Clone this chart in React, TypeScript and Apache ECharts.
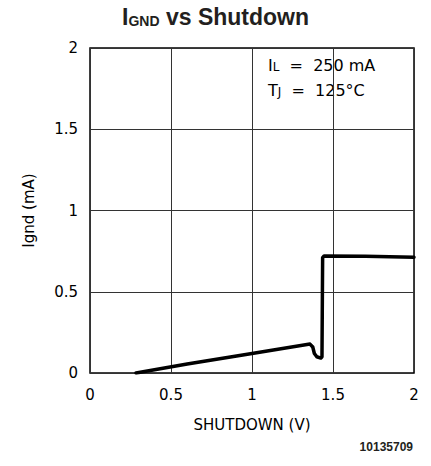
import React, { useEffect, useRef } from "react";
import * as echarts from "echarts";

const xValues = [0.284, 0.6, 1.0, 1.358, 1.375, 1.385, 1.4, 1.425, 1.432, 1.436, 1.445, 1.7, 2.0];
const yValues = [0.0, 0.055, 0.12, 0.178, 0.16, 0.12, 0.1, 0.092, 0.1, 0.71, 0.72, 0.718, 0.712];
const xTicks = [0, 0.5, 1, 1.5, 2];
const yTicks = [0, 0.5, 1, 1.5, 2];
const titleMain = "I";
const titleSub = "GND";
const titleRest = " vs Shutdown";
const xName = "SHUTDOWN (V)";
const yName = "Ignd (mA)";
const figCode = "10135709";

const TICK_FONT = "'DejaVu Sans', sans-serif";
const BOLD_FONT = "'Liberation Sans', Arial, sans-serif";

export default function App() {
  const ref = useRef<HTMLDivElement>(null);
  useEffect(() => {
    if (!ref.current) return;
    const chart = echarts.init(ref.current, undefined, { renderer: "svg" });
    const data = xValues.map((x, i) => [x, yValues[i]]);
    chart.setOption({
      animation: false,
      backgroundColor: "#ffffff",
      title: {
        text: `{b|${titleMain}}{s|${titleSub}}{b|${titleRest}}`,
        left: "center",
        top: 0,
        textStyle: {
          rich: {
            b: { fontFamily: BOLD_FONT, fontWeight: "bold", fontSize: 23, color: "#231f20", verticalAlign: "bottom" },
            s: { fontFamily: BOLD_FONT, fontWeight: "bold", fontSize: 14, color: "#231f20", verticalAlign: "bottom", padding: [8, 0, 0, 0] },
          },
        },
      },
      grid: { left: 90, right: 17, top: 48, bottom: 93, show: true, borderColor: "#000", borderWidth: 1.5 },
      xAxis: {
        type: "value",
        min: xTicks[0],
        max: xTicks[xTicks.length - 1],
        interval: 0.5,
        name: xName,
        nameLocation: "middle",
        nameGap: 44,
        nameTextStyle: { fontFamily: TICK_FONT, fontSize: 15, color: "#000" },
        axisLine: { show: false },
        axisTick: { show: false },
        axisLabel: { fontFamily: TICK_FONT, fontSize: 15, color: "#000", margin: 14, formatter: (v: number) => String(v) },
        splitLine: { show: true, lineStyle: { color: "#333", width: 1 } },
      },
      yAxis: {
        type: "value",
        min: yTicks[0],
        max: yTicks[yTicks.length - 1],
        interval: 0.5,
        name: yName,
        nameLocation: "middle",
        nameGap: 54,
        nameTextStyle: { fontFamily: TICK_FONT, fontSize: 15, color: "#000" },
        axisLine: { show: false },
        axisTick: { show: false },
        axisLabel: { fontFamily: TICK_FONT, fontSize: 15, color: "#000", margin: 12, formatter: (v: number) => String(v) },
        splitLine: { show: true, lineStyle: { color: "#333", width: 1 } },
      },
      graphic: [
        {
          type: "text",
          left: 268,
          top: 57,
          style: {
            text: "{m|I}{s|L}{m|  =  250 mA}",
            rich: {
              m: { fontFamily: TICK_FONT, fontSize: 16, fill: "#000", verticalAlign: "bottom" },
              s: { fontFamily: TICK_FONT, fontSize: 12, fill: "#000", verticalAlign: "bottom", padding: [6, 0, 0, 0] },
            },
          },
        },
        {
          type: "text",
          left: 268,
          top: 82,
          style: {
            text: "{m|T}{s|J}{m|  =  125°C}",
            rich: {
              m: { fontFamily: TICK_FONT, fontSize: 16, fill: "#000", verticalAlign: "bottom" },
              s: { fontFamily: TICK_FONT, fontSize: 12, fill: "#000", verticalAlign: "bottom", padding: [6, 0, 0, 0] },
            },
          },
        },
        {
          type: "text",
          right: 18,
          top: 441,
          style: { text: figCode, fontFamily: BOLD_FONT, fontWeight: "bold", fontSize: 12, fill: "#231f20" },
        },
      ],
      series: [
        {
          type: "line",
          data,
          showSymbol: false,
          symbol: "none",
          lineStyle: { color: "#000", width: 3.5, join: "round", cap: "round" },
          z: 5,
        },
      ],
    });
    return () => chart.dispose();
  }, []);
  return <div ref={ref} style={{ width: 431, height: 466, position: "absolute", left: 0, top: 0 }} />;
}
